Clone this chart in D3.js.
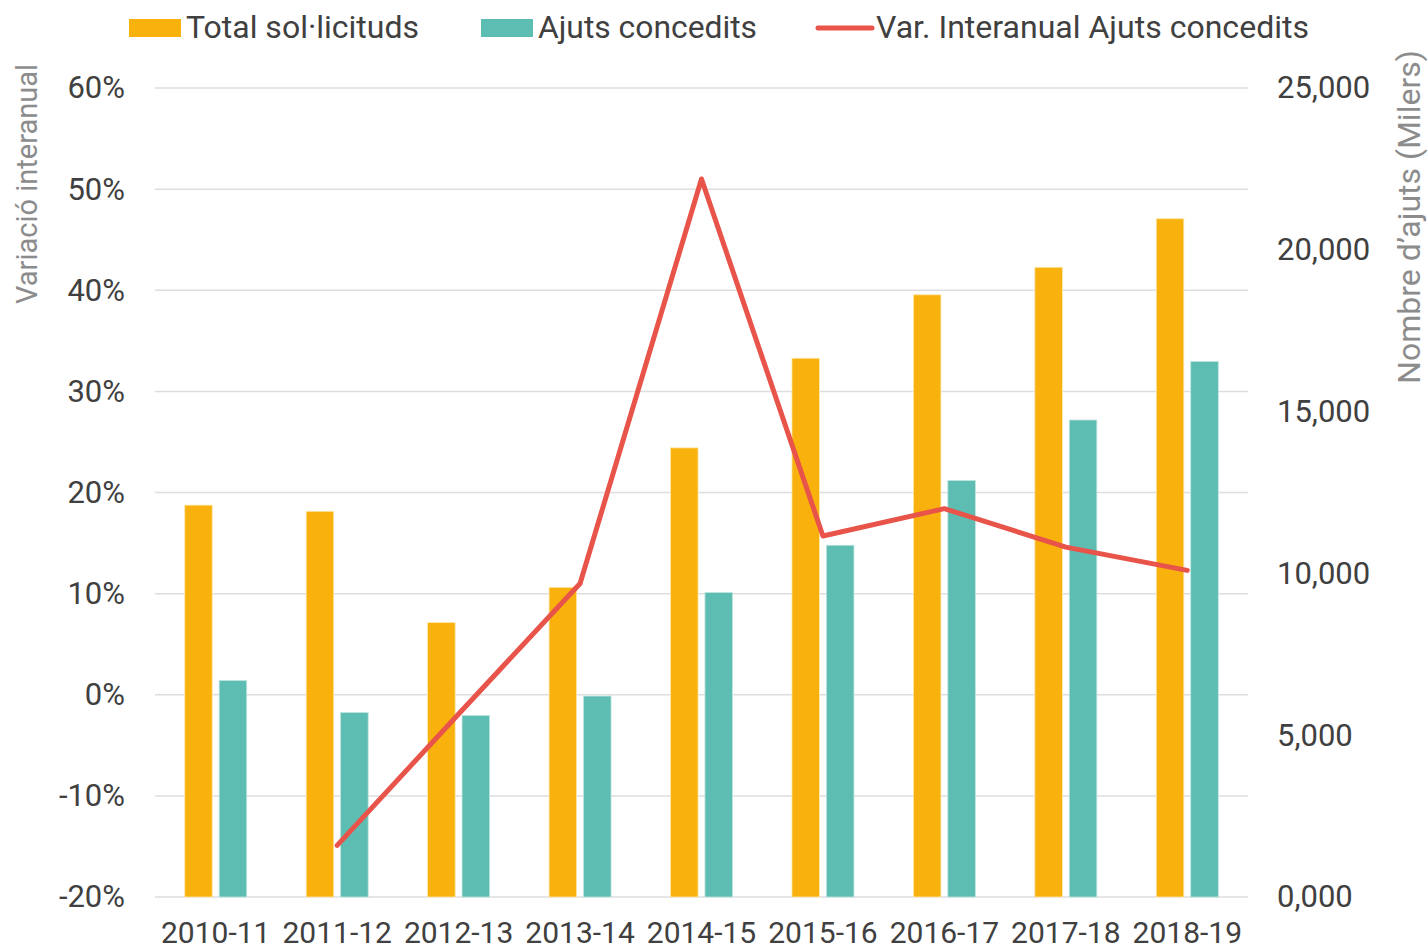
<!DOCTYPE html>
<html>
<head>
<meta charset="utf-8">
<script src="https://cdn.jsdelivr.net/npm/d3@7"></script>
<style>
    body { margin: 0; background: #fff; }
    svg { display: block; font-family: Roboto, "Noto Sans", sans-serif; }
    .tick-label { font-size: 30px; fill: #404040; }
    .tick-y { font-size: 31px; }
    .axis-title { font-size: 29px; fill: #8c8c8c; }
    .legend-text { font-size: 32px; fill: #404040; }
</style>
</head>
<body>
<svg id="grafic"></svg>
<script>
let categories = ["2010-11", "2011-12", "2012-13", "2013-14", "2014-15", "2015-16", "2016-17", "2017-18", "2018-19"];
// milers
let totalSollicituds = [12.11, 11.92, 8.48, 9.57, 13.88, 16.65, 18.61, 19.46, 20.96];
let ajutsConcedits = [6.69, 5.70, 5.61, 6.21, 9.41, 10.87, 12.87, 14.74, 16.55];
// %
let varInteranual = [null, -14.9, -1.9, 11.0, 51.0, 15.7, 18.4, 14.6, 12.3];

let leftTicks = [-20, -10, 0, 10, 20, 30, 40, 50, 60];
let rightTicks = [0, 5, 10, 15, 20, 25];
let seriesNames = ["Total sol·licituds", "Ajuts concedits", "Var. Interanual Ajuts concedits"];

let colors = { total: "#F9B20D", ajuts: "#5EBDB2", linia: "#E8534A" };

let width = 1428, height = 945;
let mLeft = 155, mRight = 1248, mTop = 88, mBottom = 897;

let ca = d3.formatLocale({ decimal: ",", thousands: ".", grouping: [3], currency: ["", " €"], minus: "-" });
let fmtMilers = ca.format(".3f");
let fmtPct = (d) => ca.format("d")(d) + "%";

let svg = d3.select("#grafic").attr("width", width).attr("height", height);

let x = d3.scaleBand().domain(categories).range([mLeft, mRight]).padding(0);
let xSub = d3.scaleBand().domain(["total", "ajuts"])
    .range([x.bandwidth() / 2 - 31, x.bandwidth() / 2 + 31]).paddingInner(0.2);
let yPct = d3.scaleLinear().domain([-20, 60]).range([mBottom, mTop]);
let yMil = d3.scaleLinear().domain([0, 25]).range([mBottom, mTop]);

// gridlines
svg.append("g")
    .selectAll("line")
    .data(leftTicks)
    .enter()
    .append("line")
    .attr("x1", mLeft).attr("x2", mRight)
    .attr("y1", (d) => yPct(d)).attr("y2", (d) => yPct(d))
    .attr("stroke", "#dedede")
    .attr("stroke-width", 1.5);

// eix esquerre
let axisL = svg.append("g")
    .attr("transform", `translate(${mLeft - 30},0)`)
    .call(d3.axisLeft(yPct).tickValues(leftTicks).tickFormat(fmtPct).tickSize(0).tickPadding(0));
axisL.select(".domain").remove();
axisL.selectAll("text").attr("class", "tick-label tick-y").attr("fill", null);
axisL.attr("font-size", null).attr("font-family", null);

// eix dret
let axisR = svg.append("g")
    .attr("transform", `translate(${mRight + 29},0)`)
    .call(d3.axisRight(yMil).tickValues(rightTicks).tickFormat(fmtMilers).tickSize(0).tickPadding(0));
axisR.select(".domain").remove();
axisR.selectAll("text").attr("class", "tick-label tick-y").attr("fill", null);
axisR.attr("font-size", null).attr("font-family", null);

// eix x
let axisX = svg.append("g")
    .attr("transform", `translate(0,${mBottom})`)
    .call(d3.axisBottom(x).tickSize(0).tickPadding(0));
axisX.select(".domain").remove();
axisX.selectAll("text").attr("class", "tick-label").attr("fill", null)
    .attr("dy", null).attr("y", 46);
axisX.attr("font-size", null).attr("font-family", null);

// barres
let grup = svg.append("g")
    .selectAll("g")
    .data(categories)
    .enter()
    .append("g")
    .attr("transform", (d) => `translate(${x(d)},0)`);

grup.append("rect")
    .attr("x", xSub("total"))
    .attr("width", xSub.bandwidth())
    .attr("y", (d, i) => yMil(totalSollicituds[i]))
    .attr("height", (d, i) => yMil(0) - yMil(totalSollicituds[i]))
    .attr("fill", colors.total)
    .attr("stroke", "#fde9b0").attr("stroke-width", 0.8);

grup.append("rect")
    .attr("x", xSub("ajuts"))
    .attr("width", xSub.bandwidth())
    .attr("y", (d, i) => yMil(ajutsConcedits[i]))
    .attr("height", (d, i) => yMil(0) - yMil(ajutsConcedits[i]))
    .attr("fill", colors.ajuts)
    .attr("stroke", "#bfe5e0").attr("stroke-width", 0.8);

// linia variacio
let linia = d3.line()
    .defined((d) => d.v !== null)
    .x((d) => x(d.c) + x.bandwidth() / 2)
    .y((d) => yPct(d.v));

svg.append("path")
    .datum(categories.map((c, i) => ({ c: c, v: varInteranual[i] })))
    .attr("d", linia)
    .attr("fill", "none")
    .attr("stroke", colors.linia)
    .attr("stroke-width", 5)
    .attr("stroke-linecap", "round")
    .attr("stroke-linejoin", "round");

// titols eixos
svg.append("text")
    .attr("class", "axis-title")
    .attr("transform", "translate(37,184) rotate(-90)")
    .attr("text-anchor", "middle")
    .text("Variació interanual");

svg.append("text")
    .attr("class", "axis-title")
    .attr("font-size", 32)
    .style("font-size", "32px")
    .attr("transform", "translate(1420,217) rotate(-90)")
    .attr("text-anchor", "middle")
    .text("Nombre d’ajuts (Milers)");

// llegenda
let legendItems = [
    { nom: seriesNames[0], color: colors.total, tipus: "rect", x: 129, tx: 186, w: 233 },
    { nom: seriesNames[1], color: colors.ajuts, tipus: "rect", x: 481, tx: 538, w: 219 },
    { nom: seriesNames[2], color: colors.linia, tipus: "line", x: 818, tx: 876, w: 433 }
];

let llegenda = svg.append("g")
    .selectAll("g")
    .data(legendItems)
    .enter()
    .append("g");

llegenda.filter((d) => d.tipus === "rect")
    .append("rect")
    .attr("x", (d) => d.x).attr("y", 19)
    .attr("width", 52).attr("height", 18)
    .attr("fill", (d) => d.color);

llegenda.filter((d) => d.tipus === "line")
    .append("line")
    .attr("x1", (d) => d.x).attr("x2", (d) => d.x + 54)
    .attr("y1", 28).attr("y2", 28)
    .attr("stroke", (d) => d.color)
    .attr("stroke-width", 5)
    .attr("stroke-linecap", "round");

llegenda.append("text")
    .attr("class", "legend-text")
    .attr("x", (d) => d.tx)
    .attr("y", 38)
    .attr("textLength", (d) => d.w)
    .attr("lengthAdjust", "spacingAndGlyphs")
    .text((d) => d.nom);
</script>
</body>
</html>
